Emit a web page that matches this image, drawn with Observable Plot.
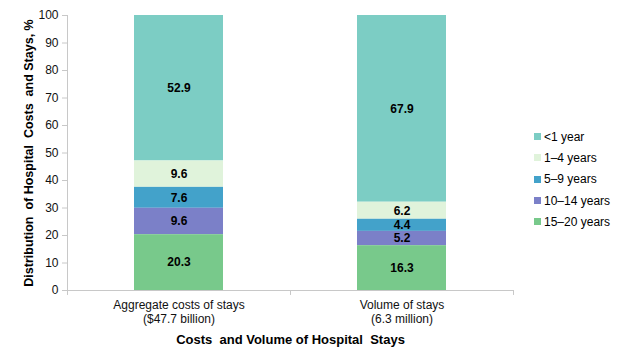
<!DOCTYPE html>
<html>
<head>
<meta charset="utf-8">
<script src="https://cdn.jsdelivr.net/npm/d3@7"></script>
<script src="https://cdn.jsdelivr.net/npm/@observablehq/plot@0.6"></script>
<style>
  html, body { margin: 0; padding: 0; background: #fff; }
  #wrap { position: relative; width: 623px; height: 361px; font-family: "Liberation Sans", Arial, sans-serif; }
  g[aria-label="y-axis label"] text { font-weight: bold; font-size: 12.5px; white-space: pre; fill: #000; }
  g[aria-label="x-axis label"] text { font-weight: bold; font-size: 13px; white-space: pre; fill: #000; }
  #legend { position: absolute; left: 534px; top: 126px; font-size: 12px; color: #000; }
  #legend .item { height: 21.3px; display: flex; align-items: center; white-space: nowrap; }
  #legend .sw { width: 7px; height: 7px; margin-right: 3px; }
</style>
</head>
<body>
<div id="wrap"></div>
<script>
const categories = ["Aggregate costs of stays\n($47.7 billion)", "Volume of stays\n(6.3 million)"];
const ageGroups = ["<1 year", "1–4 years", "5–9 years", "10–14 years", "15–20 years"];
const costsValues = [52.9, 9.6, 7.6, 9.6, 20.3];
const volumeValues = [67.9, 6.2, 4.4, 5.2, 16.3];
const colors = ["#7ccdc4", "#e0f3db", "#43a2ca", "#7b80c8", "#78c98b"];
const yTicks = [0, 10, 20, 30, 40, 50, 60, 70, 80, 90, 100];

const data = [];
ageGroups.forEach((g, i) => {
  data.push({cat: categories[0], group: g, value: costsValues[i]});
  data.push({cat: categories[1], group: g, value: volumeValues[i]});
});
const stackOrder = ageGroups.slice().reverse();

const width = 623, height = 361;
const mL = 67, mR = 110, mT = 15, mB = 71;
const step = (width - mL - mR) / categories.length;

const chart = Plot.plot({
  width, height,
  marginLeft: mL, marginRight: mR, marginTop: mT, marginBottom: mB,
  style: {fontFamily: "Liberation Sans, Arial, sans-serif", fontSize: "12px", color: "#000", background: "#fff"},
  x: {domain: categories, paddingInner: 0.6, paddingOuter: 0.3},
  y: {domain: [0, 100]},
  color: {domain: ageGroups, range: colors},
  marks: [
    Plot.barY(data, Plot.stackY({x: "cat", y: "value", fill: "group", z: "group", order: stackOrder})),
    Plot.text(data, Plot.stackY({x: "cat", y: "value", z: "group", order: stackOrder, text: d => d.value.toFixed(1), fontWeight: "bold", fontSize: 12, fill: "#000"})),
    Plot.ruleY([0], {stroke: "#c8c8c8"}),
    Plot.ruleX(categories.slice(0, 1), {x: d => d, dx: -step / 2, y1: 0, y2: 100, stroke: "#c8c8c8"}),
    Plot.ruleX(categories, {x: d => d, dx: -step / 2, y1: 0, y2: -1.8, stroke: "#c8c8c8"}),
    Plot.ruleX(categories.slice(-1), {x: d => d, dx: step / 2, y1: 0, y2: -1.8, stroke: "#c8c8c8"}),
    Plot.axisY({ticks: yTicks, tickSize: 5, stroke: "#c8c8c8", tickPadding: 4, fill: "#111", fontSize: 12,
      label: "Distribution  of Hospital  Costs  and Stays, %", labelArrow: "none", labelAnchor: "center", labelOffset: 43}),
    Plot.axisX({tickSize: 0, tickPadding: 8, fill: "#111", fontSize: 12, lineHeight: 1.2,
      label: "Costs  and Volume of Hospital  Stays", labelArrow: "none", labelAnchor: "center", labelOffset: 53})
  ]
});
const wrap = document.getElementById("wrap");
wrap.appendChild(chart);

const legend = document.createElement("div");
legend.id = "legend";
ageGroups.forEach((g, i) => {
  const item = document.createElement("div");
  item.className = "item";
  const sw = document.createElement("span");
  sw.className = "sw";
  sw.style.background = colors[i];
  const t = document.createElement("span");
  t.textContent = g;
  item.appendChild(sw); item.appendChild(t);
  legend.appendChild(item);
});
wrap.appendChild(legend);
</script>
</body>
</html>
